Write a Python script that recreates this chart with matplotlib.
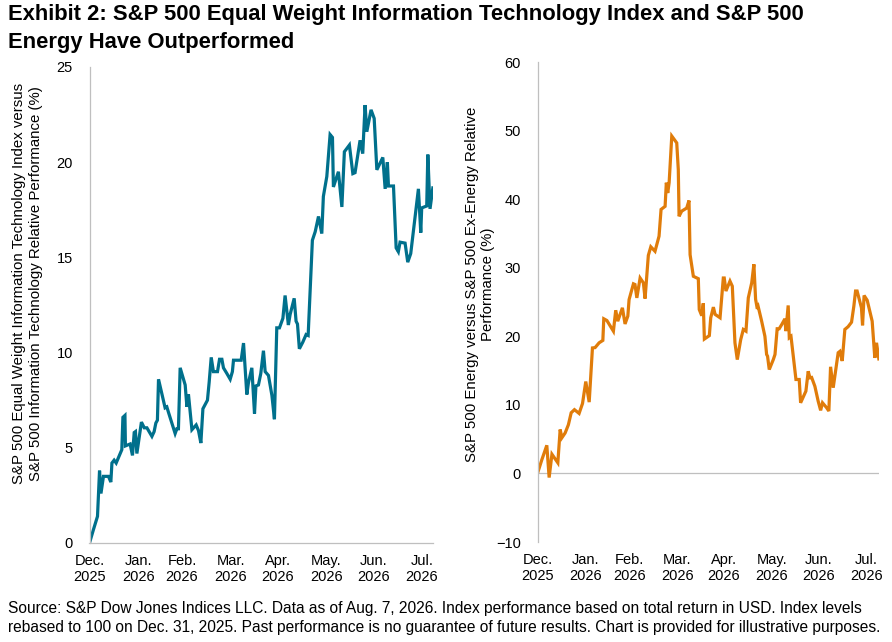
import matplotlib
matplotlib.use("Agg")
import matplotlib.pyplot as plt
import pandas as pd

plt.rcParams['font.family'] = ['Liberation Sans', 'DejaVu Sans']

# data (days after Dec. 31, 2025, relative performance in %)
it_days = [0, 2.5, 5.1, 6.4, 7.3, 8.9, 12.1, 13.6, 14.3, 15.7,
           17.0, 20.6, 21.3, 22.6, 22.9, 25.9, 27.4, 28.5, 29.3, 30.2,
           33.1, 34.9, 36.6, 39.8, 41.2, 42.3, 43.3, 44.0, 46.1, 48.2,
           49.3, 50.4, 54.6, 55.7, 56.7, 57.8, 61.0, 62.1, 63.1, 65.3,
           68.0, 69.5, 71.0, 72.3, 75.2, 76.3, 77.6, 79.0, 81.6, 82.9,
           84.4, 85.4, 87.6, 89.7, 91.1, 91.8, 95.0, 96.7, 98.2, 100.3,
           101.3, 103.5, 105.2, 106.1, 107.7, 109.2, 110.9, 112.0, 114.1, 116.3,
           117.9, 119.4, 121.1, 123.3, 124.7, 126.8, 127.9, 130.5, 131.7, 132.6,
           133.8, 136.0, 138.1, 139.4, 142.1, 143.9, 146.0, 148.1, 149.1, 151.3,
           153.4, 154.9, 155.5, 158.7, 160.9, 162.5, 165.7, 167.9, 169.3, 172.5,
           174.2, 175.7, 176.8, 179.5, 181.5, 183.2, 187.0, 188.5, 189.9, 190.6,
           193.8, 195.5, 196.9, 198.0, 201.2, 202.9, 204.8, 209.7, 211.2, 211.8,
           215.0, 215.7, 217.1, 218.9]
it_vals = [0, 0.7, 1.4, 3.8, 2.6, 3.5, 3.5, 3.2, 4.2, 4.35,
           4.2, 4.9, 6.6, 6.7, 5.1, 5.2, 4.6, 5.8, 5.85, 4.7,
           6.35, 6.05, 6.05, 5.6, 5.85, 6.3, 6.45, 8.6, 7.85, 7.1,
           7.15, 6.85, 5.75, 6.0, 6.0, 9.2, 8.3, 7.15, 7.8, 5.95,
           6.2, 5.9, 5.25, 7.05, 7.5, 8.45, 9.75, 9.0, 9.0, 9.65,
           9.65, 9.2, 8.9, 8.6, 9.0, 9.6, 9.6, 9.6, 10.5, 7.8,
           8.4, 9.2, 6.8, 8.25, 8.3, 8.9, 10.1, 9.0, 8.8, 7.75,
           6.5, 11.3, 11.3, 11.8, 13.0, 11.45, 12.0, 12.85, 11.65, 11.5,
           10.2, 10.55, 10.95, 10.9, 15.9, 16.35, 17.15, 16.25, 18.2, 19.25,
           21.45, 21.3, 18.7, 19.5, 17.65, 20.55, 20.9, 19.4, 19.45, 21.15,
           20.45, 23.0, 21.6, 22.75, 22.3, 19.6, 20.25, 18.6, 20.0, 18.75,
           18.75, 15.5, 15.3, 15.8, 15.75, 14.75, 15.2, 18.6, 16.3, 17.6,
           17.7, 20.4, 17.55, 18.65]

en_days = [0, 2.8, 6.0, 7.5, 9.3, 13.1, 14.6, 15.7, 17.8, 19.9,
           21.7, 23.8, 26.8, 29.0, 31.1, 33.3, 35.4, 37.1, 39.7, 42.1,
           42.7, 44.7, 48.9, 50.4, 51.7, 54.7, 56.4, 58.2, 59.0, 61.8,
           62.8, 64.0, 66.1, 68.2, 69.3, 71.4, 73.0, 75.7, 78.3, 79.6,
           82.2, 83.0, 83.9, 84.8, 86.5, 89.7, 90.7, 91.2, 92.9, 96.1,
           97.6, 98.3, 100.4, 103.6, 104.2, 105.8, 106.8, 107.5, 110.7, 111.6,
           113.3, 114.4, 117.6, 119.7, 120.3, 121.4, 124.0, 125.5, 127.2, 128.7,
           130.9, 132.6, 134.3, 135.8, 138.0, 139.4, 140.5, 141.6, 142.2, 144.4,
           146.5, 147.6, 148.2, 149.3, 151.9, 153.0, 154.4, 155.7, 157.3, 159.4,
           160.0, 161.5, 162.2, 163.3, 166.5, 168.6, 169.5, 172.9, 174.4, 175.5,
           176.6, 178.7, 180.8, 182.4, 183.6, 186.2, 187.7, 188.8, 190.5, 193.7,
           194.8, 196.3, 198.0, 200.1, 202.3, 203.8, 204.9, 205.9, 208.7, 209.4,
           210.4, 212.4, 215.6, 217.3, 218.4, 219.9]
en_vals = [0, 2.0, 4.1, -0.6, 2.8, 1.55, 6.4, 5.2, 5.9, 7.1,
           8.85, 9.3, 8.75, 10.2, 13.4, 10.4, 18.3, 18.35, 19.05, 19.4,
           22.55, 22.3, 20.75, 23.8, 22.2, 24.15, 21.8, 22.95, 25.35, 27.65,
           27.55, 25.6, 28.5, 27.8, 25.5, 31.8, 33.05, 32.4, 34.6, 38.5,
           38.95, 42.4, 40.9, 42.4, 49.2, 48.2, 44.3, 37.5, 38.25, 38.7,
           39.8, 31.9, 28.75, 28.4, 23.9, 23.0, 24.8, 19.6, 20.1, 22.7,
           24.25, 23.2, 22.7, 28.5, 28.5, 26.6, 28.05, 27.3, 19.05, 16.6,
           19.5, 21.0, 20.75, 25.6, 27.8, 30.5, 25.4, 24.0, 24.3, 22.2,
           20.0, 17.35, 17.1, 15.15, 16.6, 17.35, 21.1, 21.1, 21.7, 22.55,
           20.75, 24.5, 19.8, 20.0, 13.7, 13.7, 10.3, 12.0, 14.9, 13.95,
           14.0, 12.7, 10.55, 9.2, 10.3, 9.6, 9.1, 15.55, 12.5, 17.6,
           17.8, 16.4, 21.0, 21.4, 22.05, 24.4, 26.6, 26.6, 24.15, 21.6,
           25.95, 25.25, 22.2, 16.85, 19.05, 16.7]

month_labels = ["Dec.\n2025", "Jan.\n2026", "Feb.\n2026", "Mar.\n2026",
                "Apr.\n2026", "May.\n2026", "Jun.\n2026", "Jul.\n2026"]

base = pd.Timestamp("2025-12-31")
it_dates = base + pd.to_timedelta(it_days, unit="D")
en_dates = base + pd.to_timedelta(en_days, unit="D")
month_ends = pd.date_range(base, periods=len(month_labels), freq="ME")

grey = "#BFBFBF"
tick_fs = 10.5

fig = plt.figure(figsize=(8.92, 6.42), dpi=100)
W, H = 892, 642

def px_axes(x0, y0, x1, y1):
    # axes box from pixel corners (top-left origin)
    return fig.add_axes([x0 / W, 1 - y1 / H, (x1 - x0) / W, (y1 - y0) / H])

ax1 = px_axes(89.5, 67, 433, 543)
ax2 = px_axes(537.5, 62, 879, 542)

ax1.plot(it_dates, it_vals, color="#00708C", lw=2.3, solid_joinstyle="miter")
ax2.plot(en_dates, en_vals, color="#E07C0A", lw=2.3, solid_joinstyle="miter")

ax1.set_ylim(0, 25)
ax1.set_yticks([0, 5, 10, 15, 20, 25])
ax1.set_xlim(base, base + pd.Timedelta(days=219))

ax2.set_ylim(-10, 60)
ax2.set_yticks(range(-10, 61, 10))
ax2.set_xlim(base, base + pd.Timedelta(days=220))
ax2.axhline(0, color=grey, lw=0.9, zorder=0)

for ax in (ax1, ax2):
    for s in ("top", "right"):
        ax.spines[s].set_visible(False)
    ax.spines["left"].set_color(grey)
    ax.spines["left"].set_linewidth(0.9)
    ax.spines["bottom"].set_color(grey)
    ax.spines["bottom"].set_linewidth(0.9)
    ax.set_xticks(month_ends)
    ax.set_xticklabels(month_labels, linespacing=1.15)
    ax.tick_params(axis="both", length=0, labelsize=tick_fs, colors="black")
    ax.tick_params(axis="y", pad=12)
    ax.tick_params(axis="x", pad=8)
    ax.set_facecolor("none")

ax2.spines["bottom"].set_visible(False)

fig.text(27.5 / W, 1 - 283.5 / H,
         "S&P 500 Equal Weight Information Technology Index versus\n"
         "S&P 500 Information Technology Relative Performance (%)",
         rotation=90, ha="center", va="center", multialignment="center",
         fontsize=10.8, linespacing=1.2)
fig.text(480 / W, 1 - 284 / H,
         "S&P 500 Energy versus S&P 500 Ex-Energy Relative\n"
         "Performance (%)",
         rotation=90, ha="center", va="center", multialignment="center",
         fontsize=10.8, linespacing=1.2)

fig.text(8 / W, 1 - 4 / H,
         "Exhibit 2: S&P 500 Equal Weight Information Technology Index and S&P 500\n"
         "Energy Have Outperformed",
         ha="left", va="top", fontsize=15.8, fontweight="bold", linespacing=1.42)

fig.text(8 / W, 1 - 601 / H,
         "Source: S&P Dow Jones Indices LLC. Data as of Aug. 7, 2026. Index performance based on total return in USD. Index levels\n"
         "rebased to 100 on Dec. 31, 2025. Past performance is no guarantee of future results. Chart is provided for illustrative purposes.",
         ha="left", va="top", fontsize=11.2, linespacing=1.3)

fig.savefig("out.png", dpi=100)
